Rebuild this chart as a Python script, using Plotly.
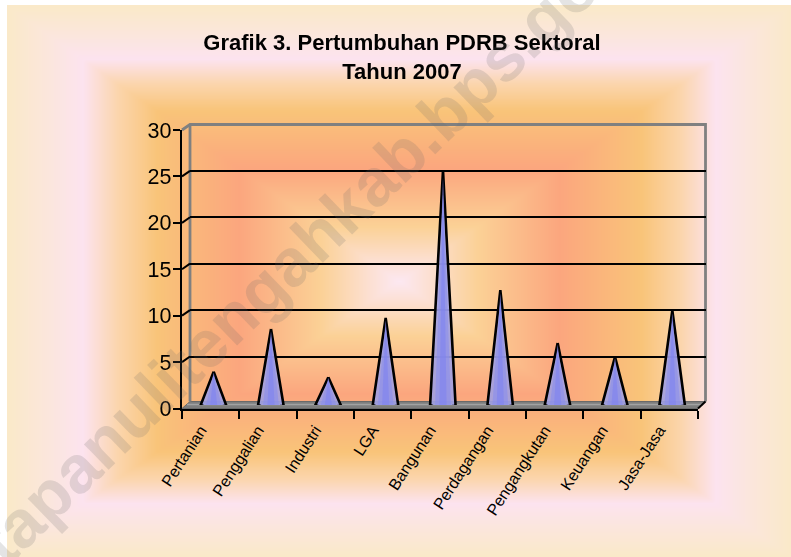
import numpy as np
import plotly.graph_objects as go

categories = ["Pertanian", "Penggalian", "Industri", "LGA", "Bangunan",
              "Perdagangan", "Pengangkutan", "Keuangan", "Jasa-Jasa"]
growth = [3.6, 8.2, 3.0, 9.4, 25.3, 12.4, 6.7, 5.2, 10.2]
y_ticks = [0, 5, 10, 15, 20, 25, 30]
title_text = "Grafik 3. Pertumbuhan PDRB Sektoral<br>Tahun 2007"
watermark = "tapanulitengahkab.bps.go.id"

W, H = 791, 557
FONT = "Liberation Sans"

def xdom(a, b):
    return [a / W, b / W]

def ydom(top, bottom):
    return [1 - bottom / H, 1 - top / H]

fig = go.Figure()

nx, ny = 261, 185
gx = np.linspace(-1, 1, nx)
gy = np.linspace(-1, 1, ny)
grad = np.maximum(np.abs(gx)[None, :], np.abs(gy)[:, None])
bg_scale = [
    [0.00, "#FCE8F2"], [0.08, "#FCDFD0"], [0.20, "#FBD196"],
    [0.41, "#FBA67E"], [0.62, "#F9C479"], [0.72, "#FBD5AC"],
    [0.81, "#FCE3EF"], [0.90, "#FBE6DC"], [1.00, "#FAE9C9"],
]
fig.add_trace(go.Heatmap(z=grad, zmin=0, zmax=1, colorscale=bg_scale, showscale=False,
                         zsmooth="best", hoverinfo="skip", xaxis="x", yaxis="y"))

FL, FR, FB = 182, 698, 408.5
BL, BR, BT, BB = 190, 705.5, 124.5, 401.5
fig.add_trace(go.Scatter(x=[FL, BL, BR, FR, FL], y=[FB, BB, BB, FB, FB], mode="lines", fill="toself",
                         fillcolor="#7E7E7E", line=dict(color="#6A6A6A", width=1),
                         hoverinfo="skip", xaxis="x2", yaxis="y2"))
fig.add_trace(go.Scatter(x=[BL - 3, BR - 3], y=[404.6, 404.6], mode="lines",
                         line=dict(color="#A2A2A2", width=1.5), hoverinfo="skip", xaxis="x2", yaxis="y2"))
fig.add_trace(go.Scatter(x=[FL, BL, BR, BR], y=[130, BT, BT, BB], mode="lines",
                         line=dict(color="#808080", width=2.8), hoverinfo="skip", xaxis="x2", yaxis="y2"))
fig.add_trace(go.Scatter(x=[BL, BL], y=[BT, BB], mode="lines",
                         line=dict(color="#808080", width=2.8), hoverinfo="skip", xaxis="x2", yaxis="y2"))
sx, sy = [FR, BR], [FB, BB]
for v in y_ticks[1:6]:
    yy = FB - (FB - 130) * v / 30
    sx += [None, FL, BL]
    sy += [None, yy, yy - 5.6]
fig.add_trace(go.Scatter(x=sx, y=sy, mode="lines", line=dict(color="#000000", width=2),
                         hoverinfo="skip", xaxis="x2", yaxis="y2"))

fig.add_trace(go.Scatter(x=[0, 1], y=[0, 30], mode="none", hoverinfo="skip", xaxis="x3", yaxis="y3"))

half = 0.225
ang = np.linspace(0, np.pi, 15)
for i, v in enumerate(growth):
    cx = list(i + half * np.cos(ang))
    cy = list(-0.24 * np.sin(ang) + 0.02)
    fig.add_trace(go.Scatter(x=[i] + cx + [i], y=[v] + cy + [v], mode="lines", fill="toself",
                             fillcolor="rgba(160,160,226,0.90)",
                             line=dict(color="#000000", width=2.6),
                             hoverinfo="skip", xaxis="x4", yaxis="y4"))
    for frac, col in ((0.62, "rgba(138,142,236,0.60)"), (0.28, "rgba(126,130,240,0.55)")):
        fig.add_trace(go.Scatter(x=[i, i + half * frac, i - half * frac, i],
                                 y=[v * 0.97, -0.1, -0.1, v * 0.97], mode="lines", fill="toself",
                                 fillcolor=col, line=dict(width=0), hoverinfo="skip",
                                 xaxis="x4", yaxis="y4"))

fig.add_trace(go.Scatter(x=categories, y=growth, mode="markers", opacity=0, hoverinfo="skip",
                         marker=dict(size=1), xaxis="x5", yaxis="y5"))

hidden = dict(visible=False, fixedrange=True)
fig.update_layout(
    width=W, height=H, showlegend=False, margin=dict(l=0, r=0, t=0, b=0, pad=0, autoexpand=False),
    paper_bgcolor="#FFFFFF", plot_bgcolor="rgba(0,0,0,0)",
    font=dict(family=FONT, color="#000000"),
    title=dict(text=title_text, x=402 / W, xanchor="center", y=1 - 50 / H, yanchor="top",
               font=dict(family=FONT, size=22, color="#000000", weight="bold")),
    xaxis=dict(domain=xdom(7, W), **hidden),
    yaxis=dict(domain=ydom(5, H), **hidden),
    xaxis2=dict(domain=[0, 1], range=[0, W], **hidden),
    yaxis2=dict(domain=[0, 1], range=[H, 0], **hidden),
    xaxis3=dict(domain=xdom(BL, BR), range=[0, 1], **hidden),
    yaxis3=dict(domain=ydom(BT, 403.4), range=[0, 30], anchor="x3", showticklabels=False, ticks="",
                zeroline=False, showline=False, tickvals=y_ticks[1:6], showgrid=True,
                gridcolor="#000000", gridwidth=2.4, fixedrange=True),
    xaxis4=dict(domain=xdom(185, 701), range=[-0.5, 8.5], **hidden),
    yaxis4=dict(domain=ydom(127, 405), range=[0, 30], anchor="x4", **hidden),
    xaxis5=dict(domain=xdom(FL, FR), type="category", categoryorder="array", categoryarray=categories,
                range=[-0.5, 8.5], tickson="boundaries", ticks="outside", ticklen=8, tickwidth=2,
                tickcolor="#000000", showline=True, linecolor="#000000", linewidth=2.4,
                showgrid=False, zeroline=False, anchor="y5", tickangle=-57, automargin=False,
                ticklabelshift=-10, ticklabelstandoff=4,
                tickfont=dict(family=FONT, size=16, color="#000000"), fixedrange=True),
    yaxis5=dict(domain=ydom(130, FB), range=[0, 30], tickvals=y_ticks, ticks="outside", ticklen=7,
                tickwidth=2, tickcolor="#000000", showline=True, linecolor="#000000", linewidth=2.4,
                showgrid=False, zeroline=False, anchor="x5", automargin=False, ticklabelstandoff=-3,
                tickfont=dict(family=FONT, size=21.5, color="#000000"), fixedrange=True),
    annotations=[dict(text=watermark, xref="x2", yref="y2", x=316, y=236,
                      xanchor="center", yanchor="middle", textangle=-44, showarrow=False,
                      font=dict(family=FONT, size=67, color="rgba(105,105,105,0.18)", weight="bold"))],
)

fig.write_html("out.html", config={"displayModeBar": False},
               post_script="document.body.style.margin='0';")
